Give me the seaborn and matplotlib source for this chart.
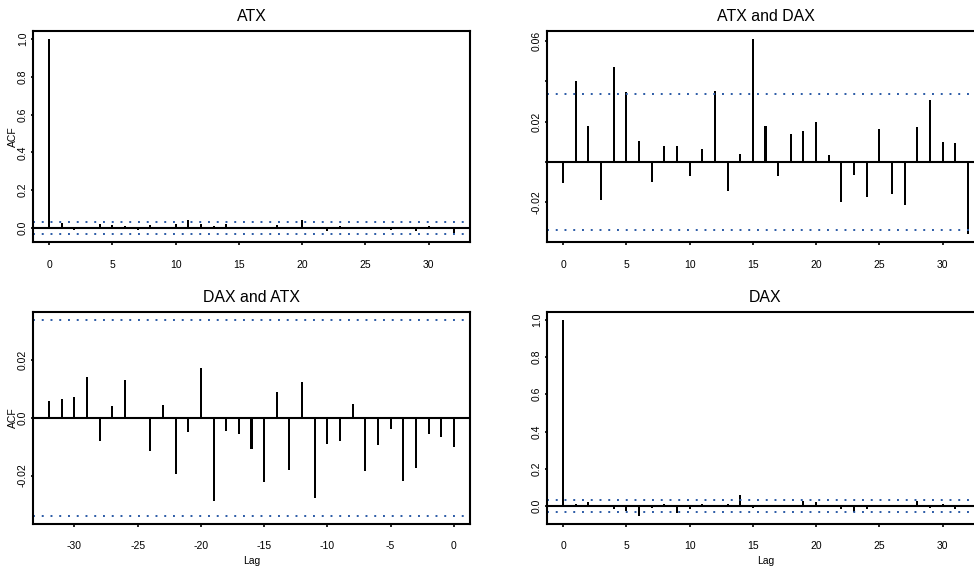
import matplotlib
matplotlib.use("Agg")
import matplotlib.pyplot as plt
import pandas as pd
import seaborn as sns

# Lags
lags_pos = list(range(0, 33))
lags_neg = list(range(-32, 1))

# Autocorrelations of ATX returns, lags 0..32
acf_atx = [1.0, 0.026, -0.009, 0.008, 0.022, 0.017, 0.013, -0.008, 0.016, 0.003,
           0.019, 0.045, 0.022, 0.011, 0.023, 0.008, 0.004, 0.003, 0.015, 0.002,
           0.040, -0.005, -0.015, 0.010, -0.003, -0.007, 0.008, -0.011, 0.002,
           -0.015, 0.013, -0.005, -0.024]

# Cross-correlations ATX vs DAX, lags 0..32
ccf_atx_dax = [-0.0102, 0.0403, 0.0178, -0.0191, 0.0473, 0.0347, 0.0103, -0.0100,
               0.0080, 0.0080, -0.0068, 0.0063, 0.0355, -0.0146, 0.0040, 0.0612,
               0.0178, -0.0071, 0.0141, 0.0154, 0.0201, 0.0037, -0.0198, -0.0066,
               -0.0176, 0.0164, -0.0161, -0.0216, 0.0174, 0.0310, 0.0101, 0.0096,
               -0.0360]

# Cross-correlations DAX vs ATX, lags -32..0
ccf_dax_atx = [0.0059, 0.0066, 0.0070, 0.0139, -0.0080, 0.0039, 0.0131, 0.0003,
               -0.0114, 0.0045, -0.0194, -0.0050, 0.0173, -0.0286, -0.0046, -0.0055,
               -0.0108, -0.0222, 0.0088, -0.0180, 0.0123, -0.0277, -0.0091, -0.0082,
               0.0048, -0.0183, -0.0095, -0.0039, -0.0219, -0.0174, -0.0058, -0.0065,
               -0.0102]

# Autocorrelations of DAX returns, lags 0..32
acf_dax = [1.0, 0.010, 0.023, 0.001, -0.014, -0.028, -0.052, -0.012, 0.010, -0.036,
           -0.015, 0.013, 0.004, 0.009, 0.058, -0.008, 0.002, -0.002, 0.002, 0.026,
           0.021, 0.005, -0.015, -0.029, -0.015, 0.006, 0.008, 0.005, 0.026, -0.012,
           0.010, -0.015, -0.004]

# Approximate 95% significance bound
conf_limit = 0.0339

titles = ["ATX", "ATX and DAX", "DAX and ATX", "DAX"]
xticks_pos = [0, 5, 10, 15, 20, 25, 30]
xticks_neg = [-30, -25, -20, -15, -10, -5, 0]
yticks_unit = [0.0, 0.2, 0.4, 0.6, 0.8, 1.0]
ylabels_unit = ["0.0", "0.2", "0.4", "0.6", "0.8", "1.0"]
yticks_ad = [-0.02, 0.0, 0.02, 0.04, 0.06]
ylabels_ad = ["-0.02", "", "0.02", "", "0.06"]
yticks_da = [-0.02, 0.0, 0.02]
ylabels_da = ["-0.02", "0.0", "0.02"]

sns.set_theme(style="ticks")
plt.rcParams["font.family"] = ["Liberation Sans", "DejaVu Sans"]
plt.rcParams.update({
    "text.color": "black",
    "axes.labelcolor": "black",
    "xtick.color": "black",
    "ytick.color": "black",
})

CI_COLOR = "#2a5aa6"
W, H = 974.0, 571.0


def axes_rect(left, top, right, bottom):
    return [left / W, 1 - bottom / H, (right - left) / W, (bottom - top) / H]


def draw_panel(ax, lags, values, title, xticks, yticks, ylabels,
               show_acf, show_lag):
    df = pd.DataFrame({"lag": lags, "acf": values})
    sns.barplot(data=df, x="lag", y="acf", native_scale=True, orient="x",
                width=0.16, color="black", saturation=1, linewidth=0,
                errorbar=None, ax=ax)
    ax.axhline(0, color="black", lw=1.5, zorder=3)
    for level in (conf_limit, -conf_limit):
        ax.axhline(level, color=CI_COLOR, lw=1.4, linestyle=(0, (1, 3.5)),
                   zorder=2)

    lo = min(min(values), -conf_limit)
    hi = max(max(values), conf_limit)
    ypad = 0.04 * (hi - lo)
    ax.set_ylim(lo - ypad, hi + ypad)
    xpad = 0.04 * (max(lags) - min(lags))
    ax.set_xlim(min(lags) - xpad, max(lags) + xpad)

    ax.set_xticks(xticks)
    ax.set_xticklabels([str(t) for t in xticks])
    ax.set_yticks(yticks)
    ax.set_yticklabels(ylabels)
    ax.tick_params(axis="x", length=2.2, width=1.2, pad=10.5, labelsize=7.5)
    ax.tick_params(axis="y", length=1.6, width=1.2, pad=2.0, labelsize=7.5,
                   labelrotation=90)
    for lab in ax.get_yticklabels():
        lab.set_va("center")

    for sp in ax.spines.values():
        sp.set_visible(True)
        sp.set_color("black")
        sp.set_linewidth(1.5)

    ax.set_title(title, fontsize=11.4, pad=7.2)

    if show_acf:
        ax.set_ylabel("ACF", fontsize=7.5)
        ax.yaxis.set_label_coords(-0.034, 0.5)
    else:
        ax.set_ylabel("")
    if show_lag:
        ax.set_xlabel("Lag", fontsize=7.5)
        ax.xaxis.label.set_va("center")
        ax.xaxis.set_label_coords(0.5, -0.176)
    else:
        ax.set_xlabel("")


fig = plt.figure(figsize=(9.74, 5.71), dpi=100)
fig.patch.set_facecolor("white")

ax_tl = fig.add_axes(axes_rect(33, 31, 470, 242.3))
ax_tr = fig.add_axes(axes_rect(547, 31, 984, 242.3))
ax_bl = fig.add_axes(axes_rect(33, 311.7, 470, 523.7))
ax_br = fig.add_axes(axes_rect(547, 311.7, 984, 523.7))

draw_panel(ax_tl, lags_pos, acf_atx, titles[0], xticks_pos, yticks_unit,
           ylabels_unit, True, False)
draw_panel(ax_tr, lags_pos, ccf_atx_dax, titles[1], xticks_pos, yticks_ad,
           ylabels_ad, False, False)
draw_panel(ax_bl, lags_neg, ccf_dax_atx, titles[2], xticks_neg, yticks_da,
           ylabels_da, True, True)
draw_panel(ax_br, lags_pos, acf_dax, titles[3], xticks_pos, yticks_unit,
           ylabels_unit, False, True)

fig.savefig("out.png", dpi=100)
